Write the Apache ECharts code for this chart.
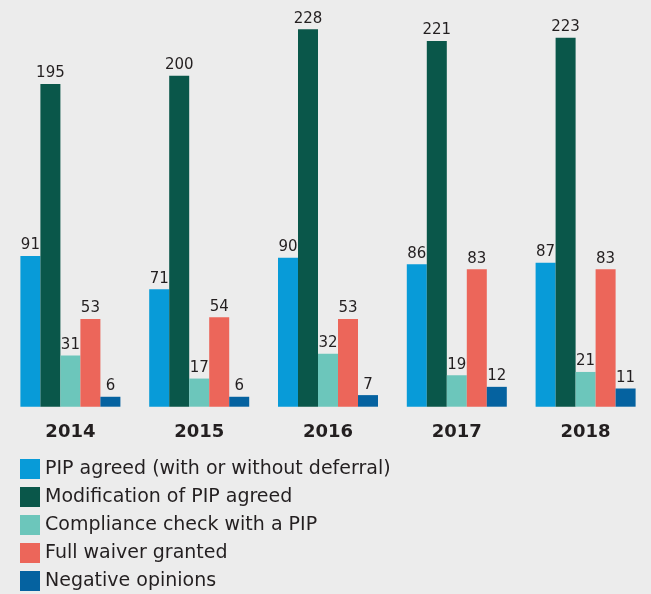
<!DOCTYPE html>
<html>
<head>
<meta charset="utf-8">
<script src="https://cdn.jsdelivr.net/npm/echarts@6/dist/echarts.min.js"></script>
<style>
  html, body { margin: 0; padding: 0; background: #ececec; }
  #chart { width: 651px; height: 594px; }
</style>
</head>
<body>
<div id="chart"></div>
<script>
// Données
const years = ['2014', '2015', '2016', '2017', '2018'];
const pipAgreed = [91, 71, 90, 86, 87];
const modification = [195, 200, 228, 221, 223];
const compliance = [31, 17, 32, 19, 21];
const fullWaiver = [53, 54, 53, 83, 83];
const negative = [6, 6, 7, 12, 11];

const seriesNames = [
    'PIP agreed (with or without deferral)',
    'Modification of PIP agreed',
    'Compliance check with a PIP',
    'Full waiver granted',
    'Negative opinions'
];
const seriesData = [pipAgreed, modification, compliance, fullWaiver, negative];
const colors = ['#089bd8', '#0a574a', '#6cc6bb', '#ec665a', '#0562a0'];

let chart = echarts.init(document.getElementById('chart'));

let series = seriesNames.map((name, i) => ({
    name: name,
    type: 'bar',
    data: seriesData[i],
    barWidth: 20,
    barGap: 0,
    itemStyle: { color: colors[i] },
    label: {
        show: true,
        position: 'top',
        distance: 3,
        color: '#231f20',
        fontFamily: 'DejaVu Sans',
        fontSize: 15
    }
}));

chart.setOption({
    backgroundColor: '#ececec',
    animation: false,
    legend: {
        orient: 'vertical',
        left: 20,
        top: 459,
        height: 140,
        padding: 0,
        itemWidth: 20,
        itemHeight: 20,
        itemGap: 8,
        icon: 'rect',
        data: seriesNames,
        textStyle: {
            color: '#231f20',
            fontFamily: 'DejaVu Sans',
            fontSize: 19
        }
    },
    grid: {
        left: 6,
        right: 1,
        top: 9.5,
        bottom: 187.3
    },
    xAxis: {
        type: 'category',
        data: years,
        axisLine: { show: false },
        axisTick: { show: false },
        axisLabel: {
            margin: 17,
            color: '#231f20',
            fontFamily: 'DejaVu Sans',
            fontWeight: 'bold',
            fontSize: 18
        }
    },
    yAxis: {
        type: 'value',
        min: 0,
        max: 240,
        show: false,
        splitLine: { show: false }
    },
    series: series
});
</script>
</body>
</html>
